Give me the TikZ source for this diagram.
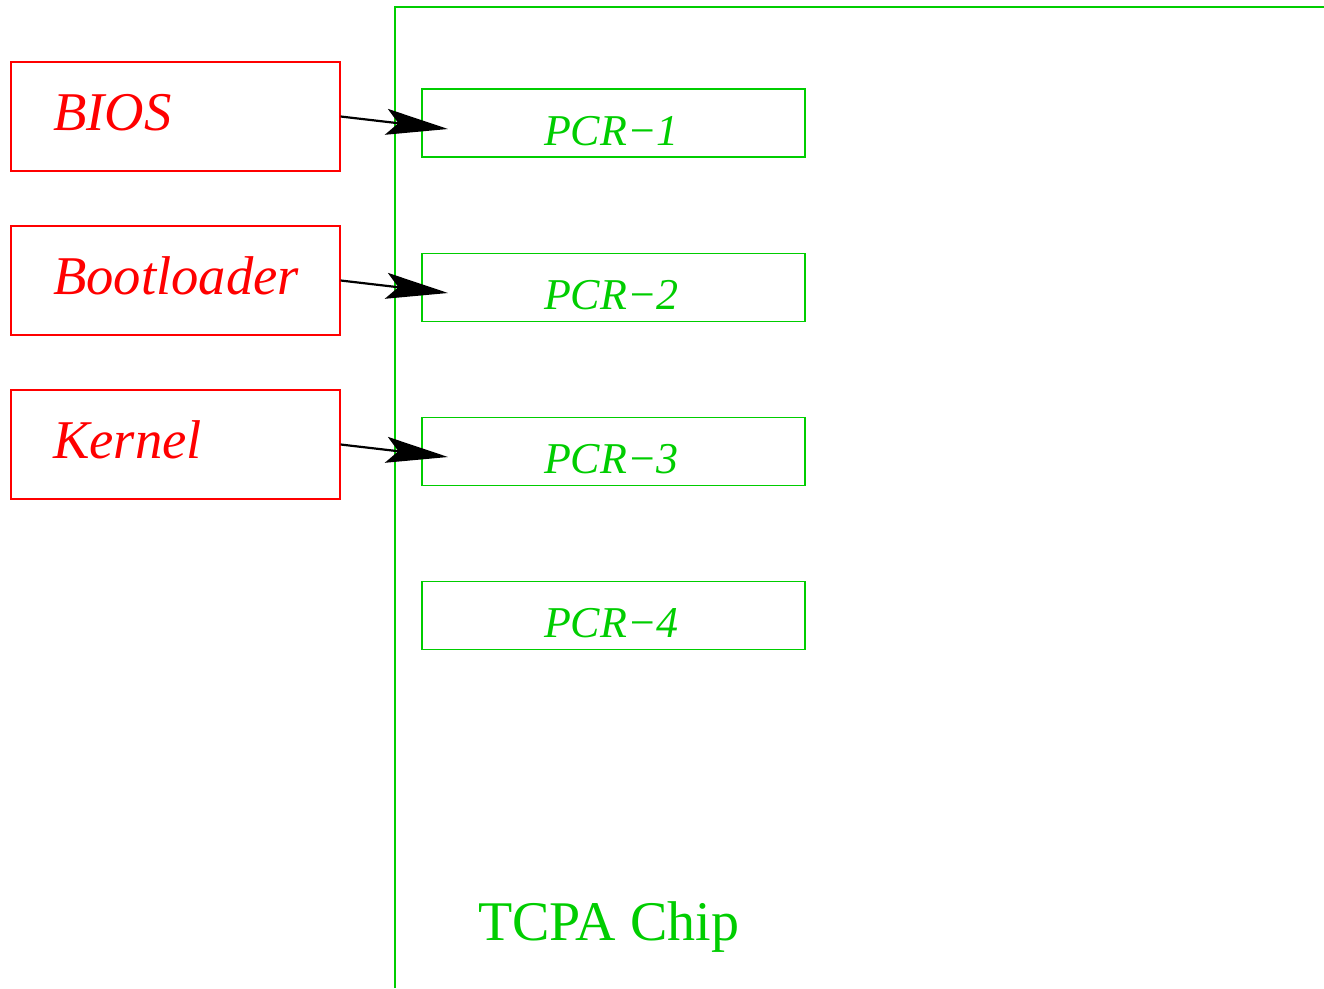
\documentclass[tikz,border=0pt]{standalone}
\usepackage{fontspec}
\setmainfont{Liberation Serif}
\usetikzlibrary{arrows.meta}
\definecolor{chipgreen}{RGB}{0,205,0}
\definecolor{bootred}{RGB}{255,0,0}
\tikzset{
  stagebox/.style={draw=bootred, line width=1.3pt, minimum width=329pt, minimum height=109pt, inner sep=0pt},
  stagetext/.style={text=bootred, anchor=base west, inner sep=0pt, font=\fontsize{54.6}{60}\selectfont\itshape},
  pcrbox/.style={draw=chipgreen, line width=1.2pt, minimum width=383pt, minimum height=68pt, inner sep=0pt},
  pcrtext/.style={text=chipgreen, anchor=base, inner sep=0pt, font=\fontsize{44}{50}\selectfont\itshape},
  measure/.style={draw=black, line width=2.2pt, -{Stealth[length=62pt, width=26pt, inset=12pt]}},
}
\begin{document}
\begin{tikzpicture}[x=1pt, y=-1pt]
\useasboundingbox (0,0) rectangle (1324,988);

% TCPA chip outline (runs off the right and bottom edges)
\draw[chipgreen, line width=1.2pt] (395,988) -- (395,7) -- (1330,7);
\node[text=chipgreen, anchor=base west, inner sep=0pt, font=\fontsize{56}{62}\selectfont] (chip) at (478,940) {TCPA Chip};

% PCR registers
\foreach \i/\y in {1/123, 2/287.5, 3/451.5, 4/615.5}{
  \node[pcrbox] (pcr\i) at (613.5,\y) {};
  \node[pcrtext] (pcr\i t) at (611.5,\y+22) {PCR−\i};
}

% boot stages
\node[stagebox] (bios) at (175.5,116.5) {};
\node[stagetext] (biost) at (53,130) {BIOS};
\node[stagebox] (boot) at (175.5,280.5) {};
\node[stagetext] (boott) at (53,294) {Bootloader};
\node[stagebox] (kern) at (175.5,444.5) {};
\node[stagetext] (kernt) at (53,458) {Kernel};

% measurement arrows
\coordinate (m1) at (448,129);
\coordinate (m2) at (448,293);
\coordinate (m3) at (448,457);
\draw[measure] (bios.east) -- (m1);
\draw[measure] (boot.east) -- (m2);
\draw[measure] (kern.east) -- (m3);
\end{tikzpicture}
\end{document}
